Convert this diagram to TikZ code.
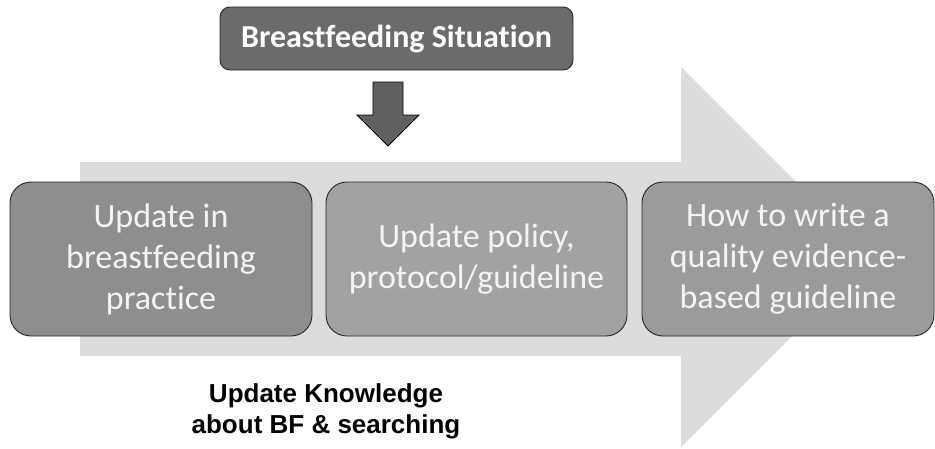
\documentclass[tikz,border=0pt]{standalone}
\usepackage{fontspec}
\setmainfont{Carlito}[Ligatures={NoCommon,NoContextual}]
\newfontfamily\labelfont{Liberation Sans}
\definecolor{flowgray}{HTML}{DCDCDC}
\definecolor{topfill}{HTML}{6B6B6B}
\definecolor{downfill}{HTML}{606060}
\definecolor{boxA}{HTML}{8E8E8E}
\definecolor{boxB}{HTML}{A2A2A2}
\definecolor{boxC}{HTML}{9B9B9B}
\definecolor{textwhite}{HTML}{F4F4F4}
\tikzset{
  stagebox/.style={draw=black!85, line width=0.9pt, rounded corners=21pt,
    minimum width=#1, minimum height=154pt, inner sep=0pt, align=center,
    text=textwhite, font=\fontsize{34}{41}\selectfont},
  headbox/.style={draw=black!85, line width=0.9pt, rounded corners=10pt, fill=topfill,
    minimum width=353pt, minimum height=63pt, inner sep=0pt, text=white,
    font=\fontsize{32}{38}\selectfont\bfseries},
  caption/.style={align=center, font=\labelfont\fontsize{26}{31}\selectfont\bfseries}
}
\begin{document}
\begin{tikzpicture}[x=1pt, y=-1pt]
  \useasboundingbox (0,0) rectangle (935,448);
  % broad background arrow
  \fill[flowgray] (80,162) -- (681,162) -- (681,67) -- (871,257) -- (681,447)
    -- (681,356) -- (80,356) -- cycle;
  % heading
  \node[headbox] (head) at (396.5,38.5) {Breastfeeding Situation};
  % short block arrow below the heading
  \fill[downfill, draw=black, line width=0.9pt]
    (373,82) -- (403,82) -- (403,115) -- (419,115) -- (388,146)
    -- (357,115) -- (373,115) -- cycle;
  % stages
  \node[stagebox=302pt, fill=boxA] (s1) at (161,259) {Update in\\breastfeeding\\practice};
  \node[stagebox=301pt, fill=boxB] (s2) at (476.5,259) {Update policy,\\protocol/guideline};
  \node[stagebox=292pt, fill=boxC] (s3) at (788,259) {How to write a\\quality evidence-\\based guideline};
  % caption under the flow
  \node[caption] (cap) at (326,411) {Update Knowledge\\about BF \& searching};
\end{tikzpicture}
\end{document}
